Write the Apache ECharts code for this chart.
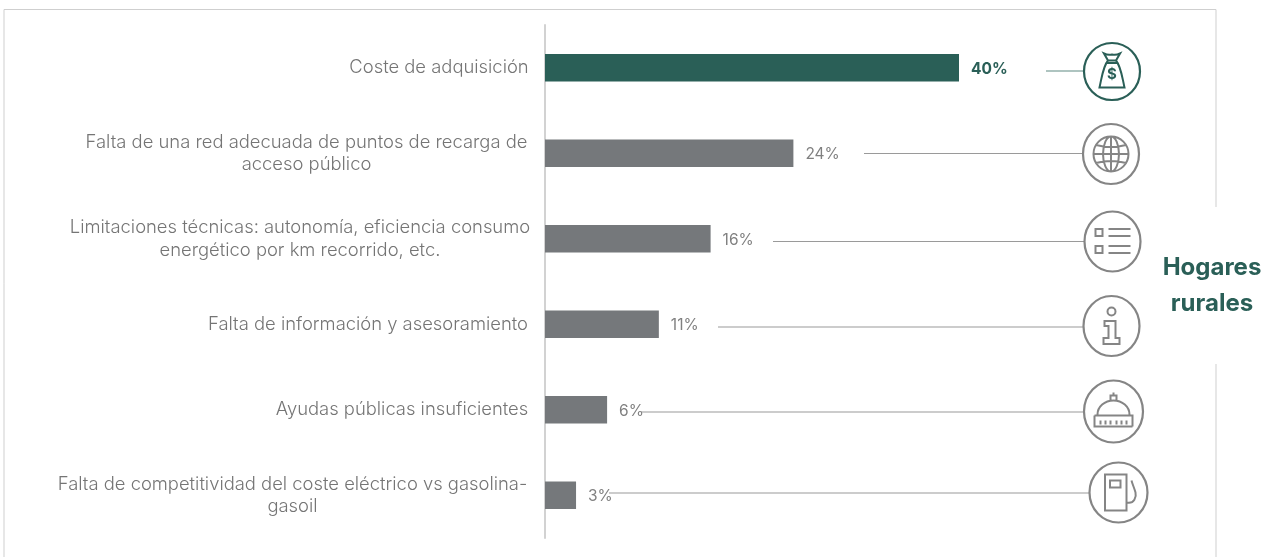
<!DOCTYPE html>
<html><head><meta charset="utf-8">
<style>html,body{margin:0;padding:0;background:#fff}#c{width:1275px;height:557px}</style>
<script src="https://cdn.jsdelivr.net/npm/echarts@6/dist/echarts.min.js"></script>
</head><body><div id="c"></div>
<script>
const categories = [
  ['Coste de adquisición'],
  ['Falta de una red adecuada de puntos de recarga de','acceso público'],
  ['Limitaciones técnicas: autonomía, eficiencia consumo','energético por km recorrido, etc.'],
  ['Falta de información y asesoramiento'],
  ['Ayudas públicas insuficientes'],
  ['Falta de competitividad del coste eléctrico vs gasolina-','gasoil']
];
const values = [40, 24, 16, 11, 6, 3];
const blockWidths = [178, 443, 456, 320, 252, 471];

const GREEN = '#2a5f57', GREY = '#75787b', ICON = '#858585', TXT = '#757575';
const FONT = 'Inter';

const rich = {};
blockWidths.forEach((w, i) => {
  rich['t' + i] = {width: w, align: 'center', fontFamily: FONT, fontWeight: 300, fontSize: 18.4, lineHeight: 22.5, color: TXT};
});

const icons = [
  {cx:1112,cy:71.5,rx:28,ry:28.5,color:GREEN,line:[1046,1084,71],
   path:'M-8,-18 Q-4,-16 0,-17 Q4,-16 8,-18 L4,-11 L-4,-11 Z M-4,-11 C-9,-5 -10,5 -12.5,16 L12.5,16 C10,5 9,-5 4,-11 M-6,-8.5 L6,-8.5', text:'$'},
  {cx:1111,cy:154,rx:28,ry:30,color:ICON,line:[864,1083,153.5],
   path:'M-17.5,0 A17.5,17.5 0 1 1 17.5,0 A17.5,17.5 0 1 1 -17.5,0 M-8,0 A8,17.5 0 1 1 8,0 A8,17.5 0 1 1 -8,0 M0,-17.5 L0,17.5 M-17.5,0 L17.5,0 M-15,-9 Q0,-5 15,-9 M-15,9 Q0,5 15,9'},
  {cx:1112.5,cy:241.5,rx:28,ry:30,color:ICON,line:[773,1085,241.5],
   path:'M-17,-12.5 L-10,-12.5 L-10,-5.5 L-17,-5.5 Z M-17,4.5 L-10,4.5 L-10,11.5 L-17,11.5 Z M-4,-12.5 L18,-12.5 M-4,-5.5 L18,-5.5 M-4,4.5 L18,4.5 M-4,11.5 L18,11.5'},
  {cx:1111.5,cy:326,rx:28,ry:30,color:ICON,line:[718,1084,327],
   path:'M-4,-14.5 A4,4 0 1 1 4,-14.5 A4,4 0 1 1 -4,-14.5 M-7,-5 L4,-5 L4,12 L8,12 L8,18 L-8,18 L-8,12 L-3,12 L-3,0 L-7,0 Z'},
  {cx:1113.5,cy:411.5,rx:29.5,ry:31,color:ICON,line:[641,1084,412],
   path:'M-16,3 A16,14 0 0 1 16,3 M-19,4 L19,4 L19,15 M-19,4 L-19,15 L19,15 M-3,-11 L-3,-16 L3,-16 L3,-11 M0,-16 L0,-19 M-13,9 L-13,13 M-8,9 L-8,13 M-3,9 L-3,13 M3,9 L3,13 M8,9 L8,13 M13,9 L13,13'},
  {cx:1118.5,cy:492.5,rx:29,ry:30,color:ICON,line:[609,1090,493],
   path:'M-13.5,18 L-13.5,-18 L8,-18 L8,18 Z M-8.5,-12 L2,-12 L2,-5 L-8.5,-5 Z M8,10 C16,12 18,4 17,0 C16,-4 14,-8 13,-12'}
];

const graphics = [
  {type:'polyline',silent:true,shape:{points:[[4,557],[4,9.5],[1216,9.5],[1216,207]]},style:{stroke:'#cfcfcf',lineWidth:1,fill:null}},
  {type:'line',silent:true,shape:{x1:1216,y1:364,x2:1216,y2:557},style:{stroke:'#cfcfcf',lineWidth:1}},
  {type:'text',silent:true,style:{x:1212,y:268,text:'Hogares',align:'center',verticalAlign:'middle',font:'700 24px '+FONT,fill:GREEN}},
  {type:'text',silent:true,style:{x:1212,y:304,text:'rurales',align:'center',verticalAlign:'middle',font:'700 24px '+FONT,fill:GREEN}}
];

function renderIcon(params) {
  const ic = icons[params.dataIndex];
  const children = [
    {type:'line',silent:true,shape:{x1:ic.line[0],y1:ic.line[2],x2:ic.line[1],y2:ic.line[2]},
     style:{stroke:ic.color===GREEN?'#5f8a82':'#9a9a9a',lineWidth:1.2}},
    {type:'ellipse',silent:true,shape:{cx:ic.cx,cy:ic.cy,rx:ic.rx,ry:ic.ry},
     style:{stroke:ic.color,lineWidth:2.2,fill:'#fff'}},
    {type:'path',silent:true,x:ic.cx,y:ic.cy,shape:{pathData:ic.path},
     style:{stroke:ic.color,lineWidth:2,fill:null}}
  ];
  if (ic.text) children.push({type:'text',silent:true,style:{x:ic.cx,y:ic.cy+3,text:ic.text,align:'center',verticalAlign:'middle',font:'700 15px '+FONT,fill:ic.color}});
  return {type:'group',children};
}

const chart = echarts.init(document.getElementById('c'), null, {renderer:'canvas'});
chart.setOption({
  animation:false,
  backgroundColor:'#fff',
  grid:{left:545,top:25,width:724.5,height:513,containLabel:false},
  xAxis:{type:'value',min:0,max:70,show:false},
  yAxis:{type:'category',inverse:true,data:categories.map((l,i)=>i),
    axisLine:{show:true,lineStyle:{color:'#d2d2d2',width:2}},
    axisTick:{show:false},splitLine:{show:false},
    axisLabel:{margin:17,interval:0,formatter:(v,i)=>categories[i].map(s=>'{t'+i+'|'+s+'}').join('\n'),rich:rich}},
  series:[
    {type:'custom',coordinateSystem:'none',silent:true,z:1,clip:false,data:icons.map((ic,i)=>i),renderItem:renderIcon},
    {type:'bar',barWidth:27.5,z:2,
    data:values.map((v,i)=>({value:v,itemStyle:{color:i===0?GREEN:GREY},
      label:i===0?{color:GREEN,fontWeight:700}:{color:'#808080',fontWeight:400}})),
    label:{show:true,position:'right',distance:12,offset:[0,1.5],fontFamily:FONT,fontSize:15.5,formatter:'{c}%'}}],
  graphic:graphics
});
</script></body></html>
